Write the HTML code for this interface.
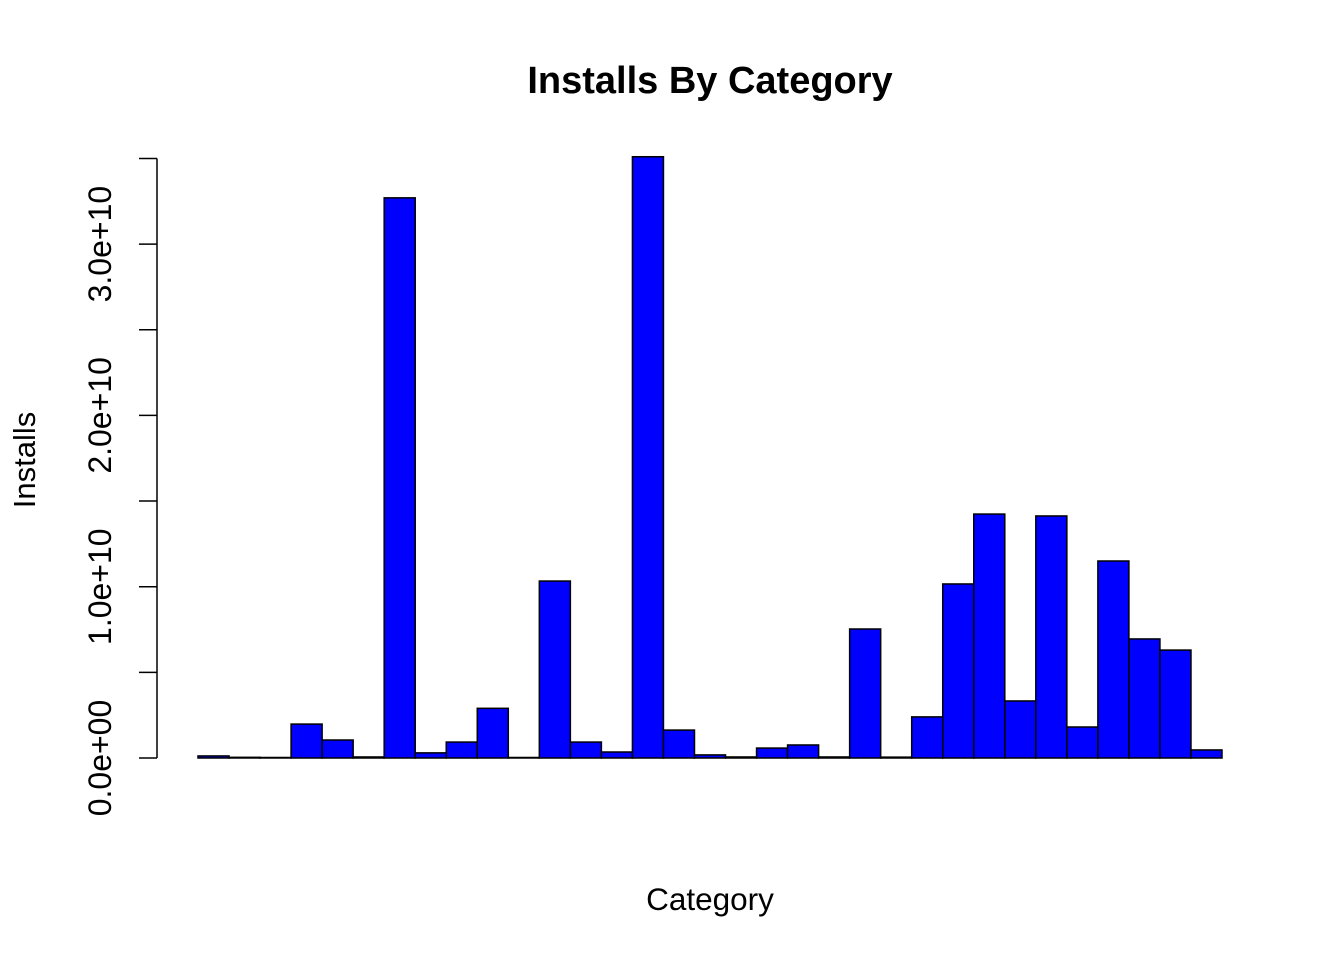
<!DOCTYPE html>
<html><head><meta charset="utf-8"><style>
body{margin:0;background:#fff}
svg text{font-family:"Liberation Sans",Arial,sans-serif;fill:#000}
</style></head><body>
<svg id="chart" width="1344" height="960" viewBox="0 0 1344 960" xmlns="http://www.w3.org/2000/svg">
<text x="710" y="93" font-size="38" font-weight="bold" text-anchor="middle">Installs By Category</text>
<text x="710" y="910" font-size="31.5" text-anchor="middle">Category</text>
<text transform="translate(35,460) rotate(-90)" font-size="31" text-anchor="middle">Installs</text>
<g id="bars"></g><g id="axis"></g>
</svg>
<script>
const categories = Array.from({length:33},(_,i)=>'cat'+(i+1));
const installs = [0.012,0.004,0.003,0.198,0.105,0.006,3.27,0.03,0.093,0.29,0.003,1.033,0.093,0.035,3.51,0.163,0.018,0.006,0.058,0.076,0.006,0.753,0.005,0.24,1.016,1.424,0.333,1.413,0.181,1.15,0.695,0.63,0.047].map(v=>v*1e10);
const tickValues = [0,0.5e10,1e10,1.5e10,2e10,2.5e10,3e10,3.5e10];
const tickLabels = ['0.0e+00','','1.0e+10','','2.0e+10','','3.0e+10',''];
const NS='http://www.w3.org/2000/svg';
const y0=758, pxPer=171.3/1e10, x0=198, bw=1024/categories.length;
const y=v=>y0-v*pxPer, x=i=>x0+i*bw;
const bars=document.getElementById('bars'), axis=document.getElementById('axis');
installs.forEach((v,i)=>{
  const r=document.createElementNS(NS,'rect');
  r.setAttribute('x',x(i));r.setAttribute('y',y(v));
  r.setAttribute('width',bw);r.setAttribute('height',Math.max(0,y0-y(v)));
  r.setAttribute('fill','#0000ff');r.setAttribute('stroke','#000');r.setAttribute('stroke-width','1.5');
  
  
  bars.appendChild(r);
});
const al=document.createElementNS(NS,'line');
al.setAttribute('x1',157);al.setAttribute('x2',157);
al.setAttribute('y1',y(tickValues[0]));al.setAttribute('y2',y(tickValues[tickValues.length-1]));
al.setAttribute('stroke','#000');al.setAttribute('stroke-width','1.5');


axis.appendChild(al);
tickValues.forEach((t,i)=>{
  const l=document.createElementNS(NS,'line');
  l.setAttribute('x1',139);l.setAttribute('x2',157);l.setAttribute('y1',y(t));l.setAttribute('y2',y(t));
  l.setAttribute('stroke','#000');l.setAttribute('stroke-width','1.5');
  
  
  axis.appendChild(l);
  if(tickLabels[i]){
    const tx=document.createElementNS(NS,'text');
    tx.setAttribute('transform','translate(111,'+y(t)+') rotate(-90)');
    tx.setAttribute('font-size','32');tx.setAttribute('text-anchor','middle');
    tx.textContent=tickLabels[i];
    
    
    axis.appendChild(tx);
  }
});
</script>
</body></html>
